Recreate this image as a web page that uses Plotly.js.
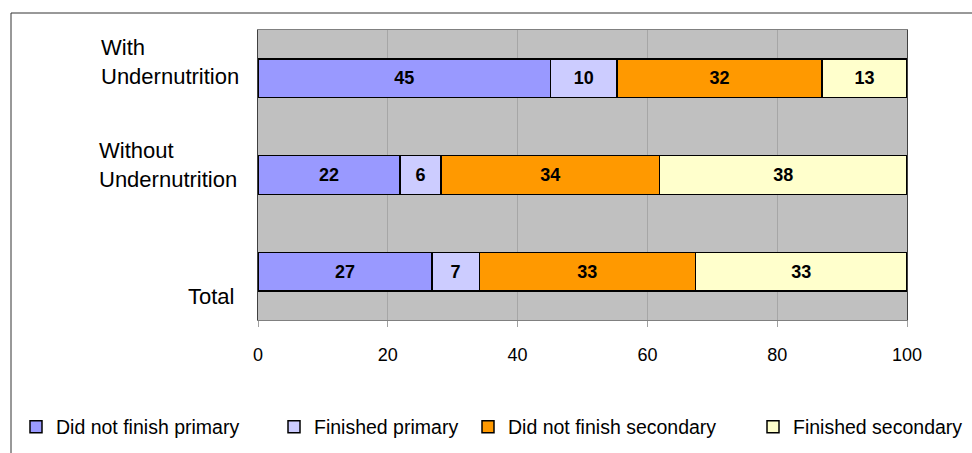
<!DOCTYPE html>
<html>
<head>
<meta charset="utf-8">
<script src="https://cdn.plot.ly/plotly-3.0.1.min.js"></script>
<style>html,body{margin:0;padding:0;background:#fff;}#chart{width:972px;height:453px;}</style>
</head>
<body>
<div id="chart"></div>
<script>
var categories = ["With<br>Undernutrition", "Without<br>Undernutrition", "Total"];
var seriesNames = ["Did not finish primary", "Finished primary", "Did not finish secondary", "Finished secondary"];
var didNotFinishPrimary = [45.1, 21.9, 26.8];
var finishedPrimary = [10.2, 6.3, 7.3];
var didNotFinishSecondary = [31.6, 33.7, 33.3];
var finishedSecondary = [13.1, 38.1, 32.6];
var xTicks = [0, 20, 40, 60, 80, 100];

var colors = ["#9999FF", "#CCCCFF", "#FF9900", "#FFFFCC"];
var seriesValues = [didNotFinishPrimary, finishedPrimary, didNotFinishSecondary, finishedSecondary];
var FN = "'Liberation Sans', Arial, sans-serif";
var legendIds = ["legend", "legend2", "legend3", "legend4"];
var legendX = [16, 274, 468, 753];

var traces = seriesValues.map(function (vals, i) {
  return {
    type: "bar",
    orientation: "h",
    name: seriesNames[i],
    legend: legendIds[i],
    x: vals,
    y: categories,
    marker: {color: colors[i], line: {color: "#000000", width: 1.5}},
    texttemplate: "%{x:.0f}",
    textposition: "inside",
    insidetextanchor: "middle",
    textangle: 0,
    constraintext: "none",
    textfont: {family: FN, size: 18, color: "#000000", weight: "bold"},
    hoverinfo: "skip"
  };
});

var labelShifts = [
  {dy: 16, dx: -17},
  {dy: 10, dx: -19},
  {dy: -25, dx: -22}
];
var annotations = categories.map(function (c, i) {
  return {
    xref: "paper", yref: "y", x: 0, y: c,
    xanchor: "right", yanchor: "middle",
    xshift: labelShifts[i].dx, yshift: labelShifts[i].dy,
    text: c, showarrow: false, align: "left",
    font: {family: FN, size: 22, color: "#000000"}
  };
});

var shapes = [
  {type: "line", xref: "paper", yref: "paper", x0: (11-258)/649, x1: (972-258)/649, y0: (320-13)/290, y1: (320-13)/290, line: {color: "#333333", width: 1}},
  {type: "line", xref: "paper", yref: "paper", x0: (11-258)/649, x1: (11-258)/649, y0: (320-13)/290, y1: (320-460)/290, line: {color: "#333333", width: 1}}
];

var layout = {
  width: 972, height: 453,
  margin: {l: 258, r: 65, t: 30, b: 133, autoexpand: false},
  barmode: "stack",
  bargap: 0.6,
  paper_bgcolor: "#ffffff",
  plot_bgcolor: "#C0C0C0",
  showlegend: true,
  xaxis: {
    range: [0, 100], tickvals: xTicks, ticktext: xTicks.map(String),
    showgrid: true, gridcolor: "#A6A6A6", gridwidth: 1,
    showline: true, linecolor: "#808080", linewidth: 1, mirror: true,
    ticks: "outside", ticklen: 6, tickcolor: "#A0A0A0",
    ticklabelstandoff: 12,
    tickfont: {family: FN, size: 18, color: "#000000"},
    zeroline: false, fixedrange: true
  },
  yaxis: {
    autorange: "reversed", type: "category",
    showticklabels: false, ticks: "",
    showgrid: false, zeroline: false,
    showline: true, linecolor: "#404040", linewidth: 1, mirror: true,
    fixedrange: true
  },
  annotations: annotations,
  shapes: shapes
};
legendIds.forEach(function (id, i) {
  layout[id] = {
    orientation: "h", xref: "container", yref: "container",
    x: legendX[i] / 972, xanchor: "left", y: 1 - 427 / 453, yanchor: "middle",
    font: {family: FN, size: 19.5, color: "#000000"},
    bgcolor: "rgba(0,0,0,0)"
  };
});

Plotly.newPlot("chart", traces, layout, {displayModeBar: false, staticPlot: true});
</script>
</body>
</html>
